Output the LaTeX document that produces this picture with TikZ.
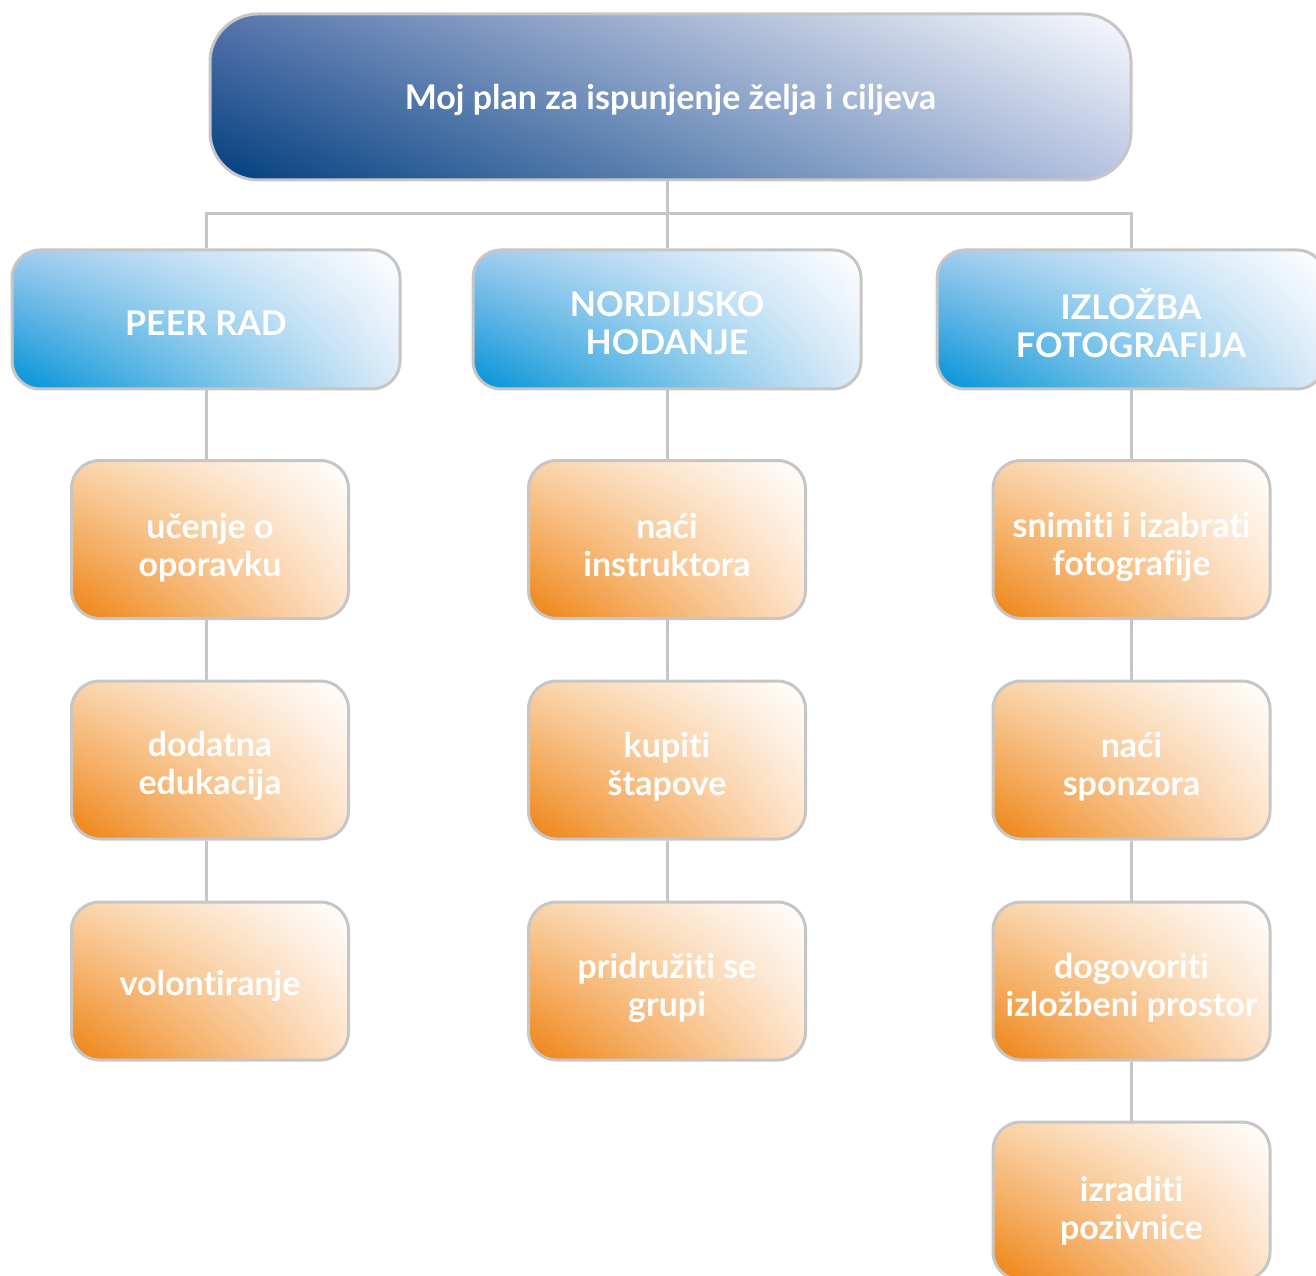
\documentclass[tikz,border=0pt]{standalone}
\usepackage{fontspec}
\setmainfont{Lato}[Ligatures=NoCommon]
\usetikzlibrary{shadings}
\definecolor{linegray}{HTML}{C6C6C6}
\definecolor{navyA}{HTML}{003E7E}
\definecolor{navyB}{HTML}{5674AC}
\definecolor{navyC}{HTML}{B8C4E2}
\definecolor{navyD}{HTML}{FAFBFE}
\definecolor{blueA}{HTML}{0092D6}
\definecolor{blueB}{HTML}{9ECBEE}
\definecolor{blueC}{HTML}{DCEAF8}
\definecolor{blueD}{HTML}{FFFFFF}
\definecolor{orA}{HTML}{EE8211}
\definecolor{orB}{HTML}{FAD4AA}
\definecolor{orC}{HTML}{FDE2C8}
\definecolor{orD}{HTML}{FFFFFF}
% lowers the lines by #1 while keeping the box size, so the node stays put
\newcommand\boxtext[2]{\raisebox{#1}[\height][\depth]{\begin{tabular}{@{}c@{}}#2\end{tabular}}}
\begin{document}
\begin{tikzpicture}[x=0.75pt,y=-0.75pt,
  box/.style={draw=linegray, line width=2.25pt, text=white,
    font=\bfseries\fontsize{25.5}{28.5}\selectfont, inner sep=0pt},
  topbox/.style={box, rounded corners=36pt, minimum width=921*0.75pt, minimum height=166*0.75pt,
    lower left=navyA, upper left=navyB, lower right=navyC, upper right=navyD},
  goalbox/.style={box, rounded corners=21pt, minimum width=388*0.75pt, minimum height=139*0.75pt,
    lower left=blueA, upper left=blueB, lower right=blueC, upper right=blueD},
  stepbox/.style={box, rounded corners=21pt, minimum width=277*0.75pt, minimum height=158*0.75pt,
    lower left=orA, upper left=orB, lower right=orC, upper right=orD},
  conn/.style={draw=linegray, line width=2.25pt}]
\path[use as bounding box] (0,0) rectangle (1316,1276);
\clip (0,0) rectangle (1316,1276);

\node[topbox] (top) at (670.5,97) {\boxtext{-4pt}{Moj plan za ispunjenje želja i ciljeva}};

\node[goalbox] (gl) at (206,319.5) {\boxtext{-6.5pt}{PEER RAD}};
\node[goalbox] (gm) at (667,319.5) {\boxtext{-6pt}{NORDIJSKO\\HODANJE}};
\node[goalbox] (gr) at (1131,319.5) {\boxtext{-7pt}{IZLOŽBA\\FOTOGRAFIJA}};

\node[stepbox] (l1) at (210,539.5) {\boxtext{-7.5pt}{učenje o\\oporavku}};
\node[stepbox] (l2) at (210,760) {\boxtext{-6pt}{dodatna\\edukacija}};
\node[stepbox] (l3) at (210,981) {\boxtext{-5pt}{volontiranje}};

\node[stepbox] (m1) at (667,539.5) {\boxtext{-8pt}{naći\\instruktora}};
\node[stepbox] (m2) at (667,760) {\boxtext{-7pt}{kupiti\\štapove}};
\node[stepbox] (m3) at (667,981) {\boxtext{-7pt}{pridružiti se\\grupi}};

\node[stepbox] (r1) at (1131.5,539.5) {\boxtext{-7pt}{snimiti i izabrati\\fotografije}};
\node[stepbox] (r2) at (1131.5,760) {\boxtext{-7pt}{naći\\sponzora}};
\node[stepbox] (r3) at (1131.5,981) {\boxtext{-7pt}{dogovoriti\\izložbeni prostor}};
\node[stepbox] (r4) at (1131.5,1201) {\boxtext{-9pt}{izraditi\\pozivnice}};

\coordinate (j) at (667,214);
\draw[conn] (top.south -| gm.north) -- (j);
\draw[conn] (gl.north) |- (j) -| (gr.north);
\draw[conn] (j) -- (gm.north);

\draw[conn] (gl.south) -- (gl.south |- l1.north);
\draw[conn] (gl.south |- l1.south) -- (gl.south |- l2.north);
\draw[conn] (gl.south |- l2.south) -- (gl.south |- l3.north);

\draw[conn] (gm.south) -- (m1.north);
\draw[conn] (m1.south) -- (m2.north);
\draw[conn] (m2.south) -- (m3.north);

\draw[conn] (gr.south) -- (gr.south |- r1.north);
\draw[conn] (r1.south) -- (r2.north);
\draw[conn] (r2.south) -- (r3.north);
\draw[conn] (r3.south) -- (r4.north);
\end{tikzpicture}
\end{document}
